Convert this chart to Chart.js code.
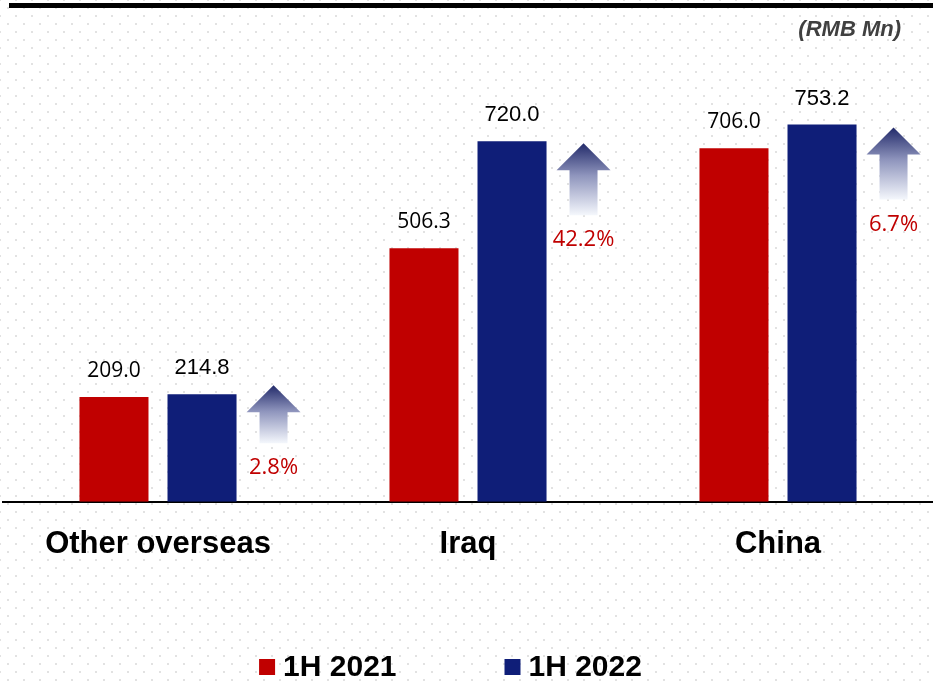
<!DOCTYPE html>
<html>
<head>
<meta charset="utf-8">
<script src="https://cdn.jsdelivr.net/npm/chart.js@4/dist/chart.umd.min.js"></script>
<style>
  html, body { margin: 0; padding: 0; }
  body {
    background-color: #fff;
    background-image: radial-gradient(circle, #e2e2e2 1px, transparent 1.3px),
                      radial-gradient(circle, #e2e2e2 1px, transparent 1.3px);
    background-size: 16px 16px;
    background-position: 0 0, 8px 8px;
  }
  #wrap { position: relative; width: 933px; height: 682px; }
</style>
</head>
<body>
<div id="wrap"><canvas id="revenue"></canvas></div>
<script>
const regions = ['Other overseas', 'Iraq', 'China']
const revenue2021 = [209.0, 506.3, 706.0]
const revenue2022 = [214.8, 720.0, 753.2]
const seriesNames = ['1H 2021', '1H 2022']
const unitLabel = '(RMB Mn)'

const RED = '#c00000'
const BLUE = '#0f1e78'

// arrow look per region: length and vertical offset from the 2022 bar top
const arrowLen = [58, 72, 72]
const arrowDy = [-9, 2, 3]

const growth = revenue2022.map((v, i) => ((v / revenue2021[i] - 1) * 100).toFixed(1) + '%')

const decorations = {
    id: 'decorations',
    beforeDraw(chart) {
        const ctx = chart.ctx
        ctx.save()
        // heavy rule across the top
        ctx.fillStyle = '#000'
        ctx.fillRect(9, 3, chart.width - 9, 5)
        // unit label
        ctx.font = 'italic bold 22px "Liberation Sans", Arial, sans-serif'
        ctx.fillStyle = '#404040'
        ctx.textAlign = 'right'
        ctx.textBaseline = 'middle'
        ctx.fillText(unitLabel, 901, 30)
        ctx.restore()
    },
    afterDatasetsDraw(chart) {
        const ctx = chart.ctx
        ctx.save()
        ctx.textAlign = 'center'
        ctx.textBaseline = 'middle'

        // value labels over each bar
        chart.data.datasets.forEach((ds, di) => {
            chart.getDatasetMeta(di).data.forEach((bar, i) => {
                ctx.fillStyle = '#000'
                ctx.font = di === 0 ? '21px "Open Sans", sans-serif' : '22px "Liberation Sans", Arial, sans-serif'
                ctx.fillText(ds.data[i].toFixed(1), bar.x, bar.y - 26)
            })
        })

        // growth arrows next to the 2022 bars
        chart.getDatasetMeta(1).data.forEach((bar, i) => {
            const cx = bar.x + bar.width / 2 + 37
            const top = bar.y + arrowDy[i]
            const bottom = top + arrowLen[i]
            const headW = 27, headH = 27, shaftW = 14
            const grad = ctx.createLinearGradient(0, top, 0, bottom)
            grad.addColorStop(0, '#222a6a')
            grad.addColorStop(0.45, '#8f95bd')
            grad.addColorStop(1, '#f4f7fc')
            ctx.beginPath()
            ctx.moveTo(cx, top)
            ctx.lineTo(cx + headW, top + headH)
            ctx.lineTo(cx + shaftW, top + headH)
            ctx.lineTo(cx + shaftW, bottom)
            ctx.lineTo(cx - shaftW, bottom)
            ctx.lineTo(cx - shaftW, top + headH)
            ctx.lineTo(cx - headW, top + headH)
            ctx.closePath()
            ctx.fillStyle = grad
            ctx.fill()

            ctx.fillStyle = RED
            ctx.font = '22px "Open Sans", sans-serif'
            ctx.fillText(growth[i], cx, bottom + 25)
        })
        ctx.restore()
    },
    afterDraw(chart) {
        // legend row along the bottom
        const ctx = chart.ctx
        ctx.save()
        ctx.font = 'bold 30px "Liberation Sans", Arial, sans-serif'
        ctx.textBaseline = 'middle'
        ctx.textAlign = 'left'
        const box = 16, gapText = 8, gapItem = 108
        const widths = chart.data.datasets.map(ds => box + gapText + ctx.measureText(ds.label).width)
        const total = widths.reduce((a, b) => a + b, 0) + gapItem * (widths.length - 1)
        let x = chart.width / 2 - 16 - total / 2
        const y = 667
        chart.data.datasets.forEach((ds, di) => {
            ctx.fillStyle = ds.backgroundColor
            ctx.fillRect(x, y - box / 2, box, box)
            ctx.fillStyle = '#000'
            ctx.fillText(ds.label, x + box + gapText, y + 1)
            x += widths[di] + gapItem
        })
        ctx.restore()
    }
}

const context = document.getElementById('revenue').getContext('2d')

const chart = new Chart(context, {
    type: 'bar',
    data: {
        labels: regions,
        datasets: [
            { label: seriesNames[0], data: revenue2021, backgroundColor: RED },
            { label: seriesNames[1], data: revenue2022, backgroundColor: BLUE }
        ]
    },
    options: {
        responsive: true,
        maintainAspectRatio: false,
        animation: false,
        categoryPercentage: 0.568,
        barPercentage: 0.784,
        layout: { padding: { top: 51, left: 3, right: 0, bottom: 95 } },
        plugins: {
            legend: { display: false },
            tooltip: { enabled: false }
        },
        scales: {
            x: {
                grid: { display: false, drawTicks: false },
                border: { display: true, color: '#000', width: 2 },
                ticks: {
                    color: '#000',
                    padding: 24,
                    font: { family: '"Liberation Sans", Arial, sans-serif', size: 31, weight: 'bold' }
                }
            },
            y: {
                display: false,
                min: 0,
                max: 900
            }
        }
    },
    plugins: [decorations]
})
</script>
</body>
</html>
